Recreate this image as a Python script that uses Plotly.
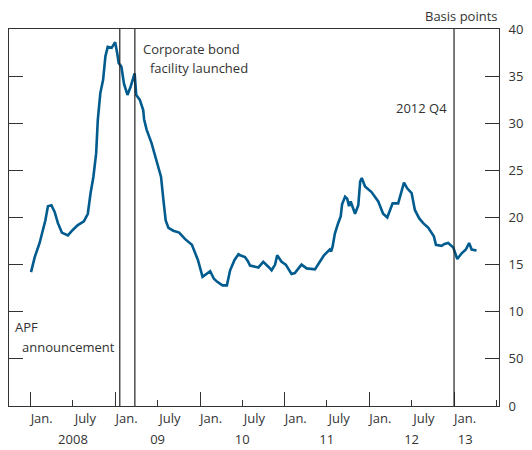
import plotly.graph_objects as go

# corporate bond spread, basis points
dates = [
    '2008-01-02', '2008-01-18', '2008-02-08', '2008-02-22', '2008-03-04', '2008-03-15',
    '2008-03-30', '2008-04-13', '2008-04-27', '2008-05-14', '2008-06-09', '2008-07-01',
    '2008-07-22', '2008-08-17', '2008-09-03', '2008-09-15', '2008-09-27', '2008-10-09',
    '2008-10-16', '2008-10-27', '2008-11-08', '2008-11-18', '2008-11-28', '2008-12-15',
    '2008-12-30', '2009-01-08', '2009-01-14', '2009-01-26', '2009-02-06', '2009-02-21',
    '2009-03-07', '2009-03-24', '2009-03-31', '2009-04-15', '2009-04-30', '2009-05-04',
    '2009-05-15', '2009-06-05', '2009-06-27', '2009-07-16', '2009-07-26', '2009-08-05',
    '2009-08-17', '2009-09-07', '2009-10-02', '2009-10-28', '2009-11-26', '2009-12-22',
    '2010-01-11', '2010-02-13', '2010-03-01', '2010-03-14', '2010-04-07', '2010-04-26',
    '2010-05-10', '2010-05-20', '2010-05-29', '2010-06-15', '2010-06-22', '2010-07-13',
    '2010-07-25', '2010-08-04', '2010-09-09', '2010-09-30', '2010-10-15', '2010-10-25',
    '2010-11-05', '2010-11-20', '2010-11-29', '2010-12-18',
    '2011-01-05', '2011-01-30', '2011-02-13', '2011-03-14', '2011-04-05', '2011-05-11',
    '2011-06-01', '2011-06-19', '2011-07-14', '2011-07-20', '2011-07-26', '2011-08-05',
    '2011-08-19', '2011-08-30', '2011-09-05', '2011-09-10', '2011-09-18', '2011-09-27',
    '2011-10-05', '2011-10-12', '2011-10-31', '2011-11-14', '2011-11-22', '2011-11-29',
    '2011-12-13',
    '2012-01-10', '2012-02-08', '2012-02-29', '2012-03-18', '2012-04-10', '2012-05-04',
    '2012-05-29', '2012-06-05', '2012-06-12', '2012-07-01', '2012-07-15', '2012-08-03',
    '2012-08-20', '2012-09-11', '2012-09-20', '2012-09-30', '2012-10-05', '2012-10-14',
    '2012-11-07', '2012-11-20', '2012-12-06', '2012-12-28',
    '2013-01-14', '2013-02-02', '2013-02-20', '2013-03-06', '2013-03-10', '2013-03-17',
    '2013-04-07',
]
spread = [
    142, 158, 173, 185, 197, 212,
    213, 206, 194, 184, 181, 187,
    192, 196, 204, 226, 243, 268,
    303, 332, 346, 371, 381, 380,
    386, 374, 364, 360, 342, 330,
    339, 353, 330, 325, 314, 304,
    293, 279, 261, 243, 219, 197,
    189, 186, 184, 177, 171, 155,
    137, 143, 135, 132, 128, 128,
    144, 150, 155, 161, 160, 158,
    154, 149, 147, 153, 150, 147,
    144, 150, 160, 153,
    150, 140, 141, 150, 146, 145,
    153, 160, 166, 164, 169, 183,
    194, 201, 214, 217, 222, 220,
    212, 217, 204, 213, 238, 242,
    233,
    227, 217, 204, 200, 215, 215,
    237, 234, 231, 226, 208, 199,
    194, 189, 186, 183, 180, 171,
    170, 172, 173, 168,
    156, 162, 166, 173, 170, 166,
    165,
]

event_dates = ['2009-01-19', '2009-03-25', '2012-12-31']

major_ticks = ['2008-01-01', '2009-01-01', '2010-01-01', '2011-01-01', '2012-01-01', '2013-01-01']
month_label_dates = ['2008-02-17', '2008-08-23', '2009-02-17', '2009-08-23', '2010-02-17',
                     '2010-08-23', '2011-02-17', '2011-08-23', '2012-02-17', '2012-08-23',
                     '2013-02-17']
month_labels = ['Jan.', 'July', 'Jan.', 'July', 'Jan.', 'July', 'Jan.', 'July', 'Jan.', 'July', 'Jan.']
year_label_dates = ['2008-07-01', '2009-07-01', '2010-07-01', '2011-07-01', '2012-07-01', '2013-02-17']
year_labels = ['2008', '09', '10', '11', '12', '13']

y_ticks = [0, 50, 100, 150, 200, 250, 300, 350, 400]

x_range = ['2007-09-29', '2013-07-13']

FONT = 'Open Sans'
TXT = '#333333'
AX = '#333333'

# the page body adds an 8px margin, so the figure is drawn 8px smaller
OFF = 8
W, H = 532 - OFF, 450 - OFF
# plot area in page pixels
L, R, T, B = 9 - OFF, 499 - OFF, 29 - OFF, 406 - OFF


def px(x):
    return (x - OFF - L) / (R - L)


def py(y):
    return (B - (y - OFF)) / (B - T)


fig = go.Figure()

fig.add_trace(go.Scatter(
    x=dates,
    y=spread,
    mode='lines',
    line=dict(color='#005b8f', width=2.6),
    showlegend=False,
    hoverinfo='skip'
))

# empty traces so the label-only overlay axes get drawn
for ax in ['x2', 'x3']:
    fig.add_trace(go.Scatter(x=[x_range[0]], y=[None], xaxis=ax, yaxis='y',
                             mode='lines', showlegend=False, hoverinfo='skip'))

for d in event_dates:
    fig.add_shape(type='line', xref='x', yref='paper', x0=d, x1=d, y0=0, y1=1,
                  line=dict(color='#222222', width=1.2))

notes = [
    ('APF', 13, 327),
    ('announcement', 20, 347),
    ('Corporate bond', 141, 49),
    ('facility launched', 148, 68),
]
for text, x, y in notes:
    fig.add_annotation(text=text, xref='paper', yref='paper', x=px(x), y=py(y),
                       xanchor='left', yanchor='middle', showarrow=False,
                       font=dict(family=FONT, size=13, color=TXT))

fig.add_annotation(text='2012 Q4', xref='paper', yref='paper', x=px(449), y=py(108),
                   xanchor='right', yanchor='middle', showarrow=False,
                   font=dict(family=FONT, size=13, color=TXT))
fig.add_annotation(text='Basis points', xref='paper', yref='paper', x=px(500), y=py(16),
                   xanchor='right', yanchor='middle', showarrow=False,
                   font=dict(family=FONT, size=13, color=TXT))

label_axis = dict(
    type='date',
    range=x_range,
    overlaying='x',
    anchor='y',
    side='bottom',
    showgrid=False,
    zeroline=False,
    showline=False,
    ticks='',
    automargin=False,
)

fig.update_layout(
    width=W,
    height=H,
    margin=dict(l=L, r=W - R, t=T, b=H - B, autoexpand=False),
    paper_bgcolor='white',
    plot_bgcolor='white',
    font=dict(family=FONT, size=13, color=TXT),
    xaxis=dict(
        type='date',
        range=x_range,
        showgrid=False,
        zeroline=False,
        showline=True,
        linecolor=AX,
        linewidth=1,
        mirror=True,
        ticks='inside',
        tickvals=major_ticks,
        ticklen=14,
        tickcolor=AX,
        showticklabels=False,
        automargin=False,
        minor=dict(ticks='inside', dtick='M6', tick0='2008-01-01', ticklen=6, tickcolor=AX, showgrid=False),
    ),
    xaxis2=dict(label_axis, tickvals=month_label_dates, ticktext=month_labels, ticklabelstandoff=3),
    xaxis3=dict(label_axis, tickvals=year_label_dates, ticktext=year_labels, ticklabelstandoff=24),
    yaxis=dict(
        range=[0, 400],
        side='right',
        showgrid=False,
        zeroline=False,
        showline=True,
        linecolor=AX,
        linewidth=1,
        mirror='ticks',
        ticks='inside',
        ticklen=14,
        tickcolor=AX,
        tickvals=y_ticks,
        ticklabelstandoff=6,
        automargin=False,
    ),
)

fig.write_html("out.html")
